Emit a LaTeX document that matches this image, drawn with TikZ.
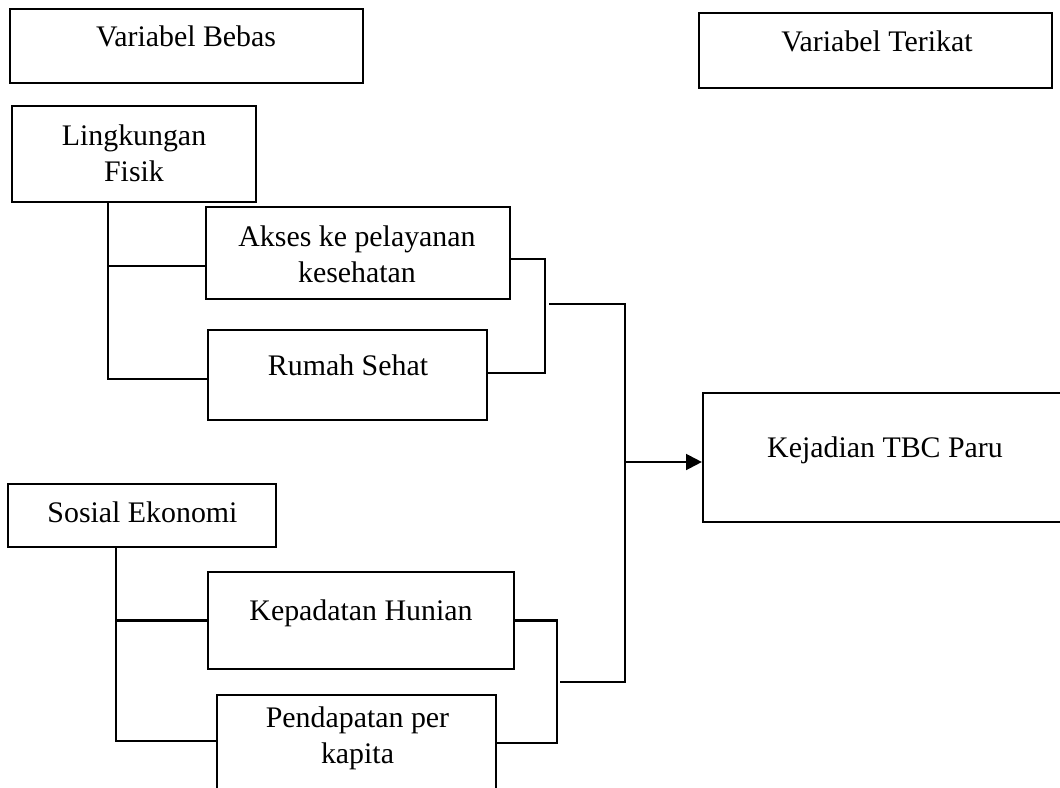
\documentclass[tikz,border=0pt]{standalone}
\usepackage{fontspec}
\setmainfont{Liberation Serif}
\usetikzlibrary{arrows.meta,positioning,calc}

\begin{document}
\begin{tikzpicture}[x=0.02cm, y=-0.02cm,
  box/.style={draw, line width=1.3pt, inner sep=0pt},
  txt/.style={anchor=base, align=center, inner sep=0pt, font=\fontsize{17}{20.2}\selectfont},
  wire/.style={line width=1.3pt}]
  \clip (0,0) rectangle (1060,787);

  % judul
  \node[box, minimum width=7.06cm, minimum height=1.48cm] (bebas) at (186.5,46) {};
  \node[txt] (tBebas) at (186,47) {Variabel Bebas};
  \node[box, minimum width=7.06cm, minimum height=1.50cm] (terikat) at (875.5,50.5) {};
  \node[txt] (tTerikat) at (877,52) {Variabel Terikat};

  % lingkungan fisik
  \node[box, minimum width=4.88cm, minimum height=1.92cm] (fisik) at (134,154) {};
  \node[txt] (tFisik) at (134,181) {Lingkungan\\Fisik};
  \node[box, minimum width=6.08cm, minimum height=1.84cm] (akses) at (358,253) {};
  \node[txt] (tAkses) at (357,282) {Akses ke pelayanan\\kesehatan};
  \node[box, minimum width=5.58cm, minimum height=1.80cm] (rumah) at (347.5,375) {};
  \node[txt] (tRumah) at (348,375) {Rumah Sehat};

  % sosial ekonomi
  \node[box, minimum width=5.36cm, minimum height=1.26cm] (sosial) at (142,515.5) {};
  \node[txt] (tSosial) at (142.5,522) {Sosial Ekonomi};
  \node[box, minimum width=6.12cm, minimum height=1.94cm] (padat) at (361,620.5) {};
  \node[txt] (tPadat) at (361,620) {Kepadatan Hunian};
  \node[box, minimum width=5.58cm, minimum height=1.92cm] (dapat) at (356.5,743) {};
  \node[txt] (tDapat) at (357.5,763) {Pendapatan per\\kapita};

  % variabel terikat
  \node[box, minimum width=7.18cm, minimum height=2.58cm] (tbc) at (882.5,457.5) {};
  \node[txt] (tTbc) at (885,457) {Kejadian TBC Paru};

  % titik sambung
  \coordinate (fisikT) at (108,202);
  \coordinate (sosialT) at (116,547);
  \coordinate (brA) at (545,316);
  \coordinate (brB) at (557,680);
  \coordinate (outA) at (549,304);
  \coordinate (outB) at (560,682);
  \coordinate (bus) at (625,462);

  \draw[wire] (fisikT) |- ([yshift=-7.4pt]akses.west);
  \draw[wire] (fisikT) |- ([yshift=-2.3pt]rumah.west);
  \draw[wire] ([yshift=-3.4pt]akses.east) -| (brA) |- ([yshift=1pt]rumah.east);

  \draw[wire] (sosialT) |- (padat.west);
  \draw[wire] (sosialT) |- ([yshift=1pt]dapat.west);
  \draw[wire] (padat.east) -| (brB) |- (dapat.east);

  \draw[wire] (outA) -| (bus) |- (outB);
  \draw[wire, -{Triangle[length=9pt, width=9pt]}] (bus) -- (bus -| tbc.west);
\end{tikzpicture}
\end{document}
